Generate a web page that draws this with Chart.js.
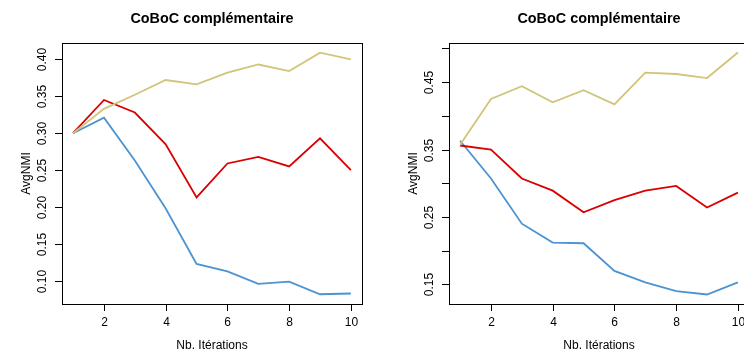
<!DOCTYPE html>
<html>
<head>
<meta charset="utf-8">
<script src="https://cdn.jsdelivr.net/npm/chart.js@4/dist/chart.umd.min.js"></script>
<style>
  html, body { margin: 0; padding: 0; background: #fff; }
  body { width: 744px; height: 358px; overflow: hidden; position: relative; }
  canvas { position: absolute; top: 0; }
  #left { left: 0; }
  #right { left: 372px; }
</style>
</head>
<body>
<canvas id="left" width="372" height="358"></canvas>
<canvas id="right" width="380" height="358"></canvas>
<script>
// data
const iterations = [1, 2, 3, 4, 5, 6, 7, 8, 9, 10];

const leftYellow = [0.300, 0.333, 0.352, 0.372, 0.366, 0.382, 0.393, 0.384, 0.409, 0.400];
const leftRed    = [0.300, 0.345, 0.328, 0.285, 0.213, 0.259, 0.268, 0.255, 0.293, 0.250];
const leftBlue   = [0.300, 0.321, 0.263, 0.198, 0.123, 0.113, 0.096, 0.099, 0.082, 0.083];

const rightYellow = [0.357, 0.425, 0.444, 0.420, 0.438, 0.417, 0.464, 0.462, 0.456, 0.494];
const rightRed    = [0.356, 0.350, 0.307, 0.289, 0.257, 0.275, 0.289, 0.296, 0.264, 0.286];
const rightBlue   = [0.363, 0.307, 0.240, 0.212, 0.211, 0.170, 0.153, 0.140, 0.135, 0.153];

const xTicks = [2, 4, 6, 8, 10];
const leftYTicks = [0.10, 0.15, 0.20, 0.25, 0.30, 0.35, 0.40];
const leftYLabels = ['0.10', '0.15', '0.20', '0.25', '0.30', '0.35', '0.40'];
const rightYTicks = [0.15, 0.20, 0.25, 0.30, 0.35, 0.40, 0.45, 0.50];
const rightYLabels = ['0.15', '', '0.25', '', '0.35', '', '0.45', ''];

const title = 'CoBoC complémentaire';
const xTitle = 'Nb. Itérations';
const yTitle = 'AvgNMI';

const YELLOW = '#d2c47a';
const RED = '#d90000';
const BLUE = '#4b93d3';
const FONT = '"Liberation Sans", Arial, sans-serif';

// R-style frame: box, outward ticks, rotated y labels
const rFrame = {
    id: 'rFrame',
    afterDraw(chart, args, opts) {
        const ctx = chart.ctx;
        const a = chart.chartArea;
        const xs = chart.scales.x, ys = chart.scales.y;
        ctx.save();
        ctx.strokeStyle = '#000';
        ctx.lineWidth = 1;
        ctx.strokeRect(Math.round(a.left) + 0.5, Math.round(a.top) + 0.5,
            Math.round(a.right - a.left), Math.round(a.bottom - a.top));

        ctx.fillStyle = '#000';
        ctx.font = '12px ' + FONT;
        ctx.textAlign = 'center';
        ctx.textBaseline = 'middle';
        xTicks.forEach(v => {
            const px = Math.round(xs.getPixelForValue(v)) + 0.5;
            ctx.beginPath();
            ctx.moveTo(px, a.bottom);
            ctx.lineTo(px, a.bottom + 7);
            ctx.stroke();
            ctx.fillText(String(v), px, a.bottom + 19);
        });
        ctx.fillText(xTitle, (a.left + a.right) / 2, a.bottom + 42);

        opts.yTicks.forEach((v, i) => {
            const py = Math.round(ys.getPixelForValue(v)) + 0.5;
            ctx.beginPath();
            ctx.moveTo(a.left, py);
            ctx.lineTo(a.left - 7, py);
            ctx.stroke();
            const lab = opts.yLabels[i];
            if (lab) {
                ctx.save();
                ctx.translate(a.left - 19, py);
                ctx.rotate(-Math.PI / 2);
                ctx.fillText(lab, 0, 0);
                ctx.restore();
            }
        });
        ctx.save();
        ctx.translate(a.left - 35, (a.top + a.bottom) / 2);
        ctx.rotate(-Math.PI / 2);
        ctx.fillText(yTitle, 0, 0);
        ctx.restore();

        ctx.font = 'bold 14.4px ' + FONT;
        ctx.fillText(title, (a.left + a.right) / 2, 19);
        ctx.restore();
    }
};

function makeChart(id, series, yMin, yMax, yTicks, yLabels, padding) {
    const colors = [YELLOW, RED, BLUE];
    const datasets = series.map((s, i) => ({
        data: iterations.map((x, j) => ({ x: x, y: s[j] })),
        borderColor: colors[i],
        borderWidth: 1.8,
        pointRadius: 0,
        tension: 0,
        fill: false
    }));
    new Chart(document.getElementById(id), {
        type: 'line',
        data: { datasets: datasets },
        options: {
            responsive: false,
            animation: false,
            layout: { padding: padding },
            plugins: {
                legend: { display: false },
                tooltip: { enabled: false },
                rFrame: { yTicks: yTicks, yLabels: yLabels }
            },
            scales: {
                x: { type: 'linear', min: 0.64, max: 10.36, display: false },
                y: { type: 'linear', min: yMin, max: yMax, display: false }
            }
        },
        plugins: [rFrame]
    });
}

makeChart('left', [leftYellow, leftRed, leftBlue], 0.0688, 0.4221,
    leftYTicks, leftYLabels, { left: 62, right: 10, top: 43, bottom: 54 });
makeChart('right', [rightYellow, rightRed, rightBlue], 0.1209, 0.508,
    rightYTicks, rightYLabels, { left: 77, right: 3, top: 43, bottom: 54 });
</script>
</body>
</html>
